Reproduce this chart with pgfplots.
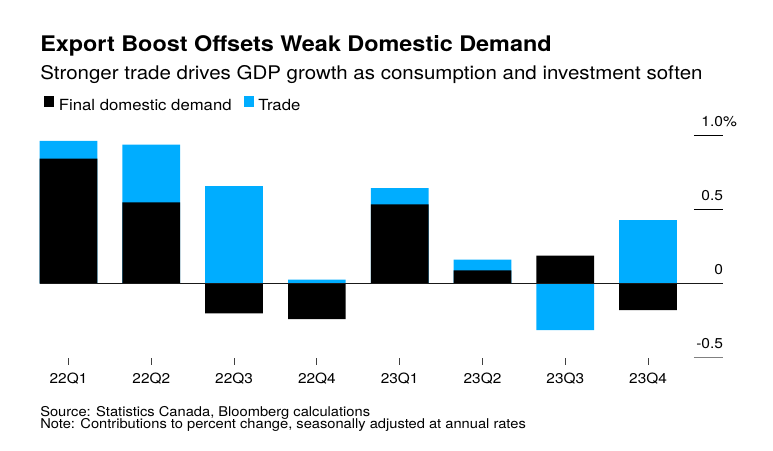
\documentclass[border=0pt]{standalone}
\usepackage{pgfplots}
\pgfplotsset{compat=1.18}
\usepackage{pgfplotstable}
\usepackage{fontspec}
\setmainfont[FakeStretch=1.09]{TeX Gyre Heros}
\definecolor{tradeblue}{RGB}{0,173,255}
\pgfplotstableread{
q fdd trade
0 0.845 0.120
1 0.550 0.390
2 -0.200 0.660
3 -0.240 0.027
4 0.536 0.110
5 0.090 0.072
6 0.189 -0.313
7 -0.178 0.430
}\datatable
\begin{document}
\begin{tikzpicture}
\path (0pt,0pt) rectangle (579.75pt,337.5pt);
\node[anchor=base west, inner sep=0pt, font=\fontsize{16.1pt}{19pt}\selectfont\bfseries] at (30pt,298.725pt) {Export Boost Offsets Weak Domestic Demand};
\node[anchor=base west, inner sep=0pt, font=\fontsize{14.1pt}{17pt}\selectfont] at (30pt,278.025pt) {Stronger trade drives GDP growth as consumption and investment soften};
\node[anchor=base west, inner sep=0pt, font=\fontsize{10.1pt}{12pt}\selectfont] at (30pt,24.975pt) {Source: Statistics Canada, Bloomberg calculations};
\node[anchor=base west, inner sep=0pt, font=\fontsize{10.1pt}{12pt}\selectfont] at (30pt,16.3pt) {Note: Contributions to percent change, seasonally adjusted at annual rates};
\begin{axis}[
  at={(30pt,69.225pt)}, anchor=south west,
  scale only axis, width=512.25pt, height=166.5pt,
  xmin=-0.344, xmax=7.905, ymin=-0.5, ymax=1.0,
  clip=false,
  ybar, bar width=0.697, bar shift=0pt,
  axis line style={draw=none},
  axis x line*=bottom, axis y line*=right,
  xtick={0,...,7},
  xticklabels={22Q1,22Q2,22Q3,22Q4,23Q1,23Q2,23Q3,23Q4},
  x tick style={draw=black!75, line width=0.75pt},
  tick align=outside, major tick length=5.25pt,
  xticklabel style={font=\fontsize{10.6pt}{12pt}\selectfont, yshift=-3pt},
  ytick={-0.5,0,0.5,1},
  yticklabels={-0.5,0,0.5,1.0\rlap{\%}},
  y tick style={draw=none},
  yticklabel style={font=\fontsize{10.7pt}{12pt}\selectfont, anchor=base east, inner sep=0pt, xshift=-5pt, yshift=6.75pt},
  legend style={draw=none, fill=none, at={(axis description cs:0,1)}, anchor=south west,
    yshift=13.5pt,
    legend columns=-1, font=\fontsize{11.5pt}{13pt}\selectfont,
    /tikz/every odd column/.append style={column sep=1.5pt},
    /tikz/every even column/.append style={column sep=7pt}},
  legend image code/.code={\fill[#1] (0pt,-1pt) rectangle (7.5pt,7.25pt);},
]
% Trade drawn first: it sits on top of domestic demand when both share a sign
\addplot[fill=tradeblue, draw=none, forget plot] table[x=q,
  y expr={\thisrow{trade} + ifthenelse(\thisrow{trade}*\thisrow{fdd} > 0, \thisrow{fdd}, 0)}] {\datatable};
\addplot[fill=black, draw=none, forget plot] table[x=q, y=fdd] {\datatable};
\addlegendimage{fill=black, draw=none}
\addlegendentry{Final domestic demand}
\addlegendimage{fill=tradeblue, draw=none}
\addlegendentry{Trade}
\draw[black!90, line width=0.8pt] (axis cs:-0.344,0) -- (axis cs:7.905,0);
\draw[black, line width=0.75pt] (axis cs:7.554,0.5) -- (axis cs:7.905,0.5);
\draw[black, line width=0.75pt] (axis cs:7.554,1) -- (axis cs:7.905,1);
\draw[black!50, line width=0.75pt] (axis cs:7.554,-0.5) -- (axis cs:7.905,-0.5);
\end{axis}
\end{tikzpicture}
\end{document}
